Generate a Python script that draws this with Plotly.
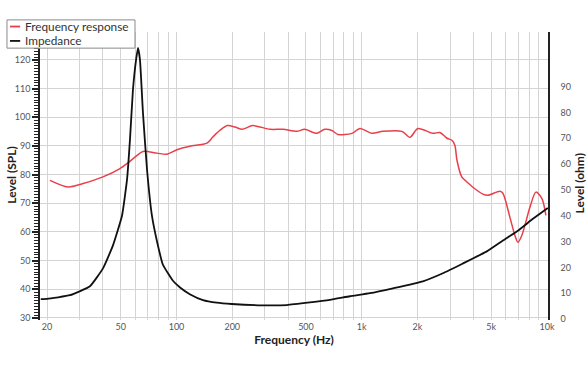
import plotly.graph_objects as go

# Frequency response (SPL, dB) — left axis
fr_freq = [20.75, 26.0, 31.3, 40.1, 49.5, 54.7, 61.2, 66.0, 78.5, 88.9, 100.6, 118, 146, 157, 172,
           188, 207, 226, 258, 320, 376, 446, 492, 571, 632, 690, 744, 885, 978, 1135, 1301,
           1648, 1820, 2010, 2421, 2642, 2885, 3068, 3184, 3264, 3472, 3604, 3981, 4506, 4796,
           5572, 5780, 6308, 6712, 6963, 7312, 8088, 8712, 9380, 9860]
fr_spl = [78.0, 75.7, 76.9, 79.2, 82.1, 84.1, 86.7, 88.1, 87.5, 87.1, 88.7, 89.9, 91.0, 93.1, 95.5,
          97.1, 96.6, 95.8, 97.1, 95.8, 95.8, 95.1, 95.8, 94.4, 95.8, 95.4, 94.0, 94.4, 96.1, 94.4, 95.1,
          95.1, 93.0, 96.1, 94.4, 94.7, 92.7, 92.0, 90.2, 85.1, 79.1, 78.1, 75.6, 73.2, 72.8,
          74.2, 73.5, 65.1, 58.8, 56.4, 58.8, 68.6, 73.9, 71.7, 65.8]

# Impedance (ohm) — right axis
imp_freq = [18.5, 20, 26.6, 34.1, 40.1, 45.4, 50.8, 54.1, 56.1, 58.2, 60.4, 62.0, 63.5, 65.9, 69.3,
            73.7, 78.5, 84.5, 95.7, 104.5, 118, 139, 165, 199, 293, 394, 525, 673, 863, 1107, 1473,
            2138, 2742, 3516, 4733, 5780, 6965, 8394, 10100]
imp_ohm = [7.7, 7.8, 9.2, 12.7, 19.6, 28.5, 40.0, 54.2, 69.6, 88.8, 100.0, 105.0, 100.5, 80.0, 58.0,
           40.0, 30.0, 21.0, 14.8, 12.2, 9.6, 7.3, 6.3, 5.8, 5.3, 5.4, 6.4, 7.4, 8.8, 10.0, 11.9,
           14.6, 17.7, 21.5, 26.2, 30.4, 34.2, 38.8, 43.0]

# Tick labels
x_grid = [20, 30, 40, 50, 60, 70, 80, 90, 100, 200, 300, 400, 500, 600, 700, 800, 900,
          1000, 2000, 3000, 4000, 5000, 6000, 7000, 8000, 9000, 10000]
x_labels = {20: "20", 50: "50", 100: "100", 200: "200", 500: "500", 1000: "1k",
            2000: "2k", 5000: "5k", 10000: "10k"}
spl_ticks = [30, 40, 50, 60, 70, 80, 90, 100, 110, 120]
ohm_ticks = [0, 10, 20, 30, 40, 50, 60, 70, 80, 90]

series_names = ["Frequency response", "Impedance"]
series_colors = ["#e8404a", "#111111"]
y_titles = ["Level (SPL)", "Level (ohm)"]

FONT = "Lato"

fig = go.Figure()
fig.add_trace(go.Scatter(x=fr_freq, y=fr_spl, mode="lines", name=series_names[0],
                         line=dict(color=series_colors[0], width=1.5, shape="spline", smoothing=0.8)))
fig.add_trace(go.Scatter(x=imp_freq, y=imp_ohm, mode="lines", name=series_names[1], yaxis="y2",
                         line=dict(color=series_colors[1], width=1.8, shape="spline", smoothing=0.4)))

# Compact legend box (drawn as layout decorations, like the reference)
shapes = [dict(type="rect", xref="paper", yref="paper", x0=-0.065, x1=0.187, y0=0.944, y1=1.042,
               fillcolor="white", line=dict(color="#8a8a8a", width=1), layer="above")]
annotations = []
for i, (nm, col) in enumerate(zip(series_names, series_colors)):
    yy = 1.019 - i * 0.05
    shapes.append(dict(type="line", xref="paper", yref="paper", x0=-0.059, x1=-0.039, y0=yy, y1=yy,
                       line=dict(color=col, width=1.8), layer="above"))
    annotations.append(dict(xref="paper", yref="paper", x=-0.034, y=yy, xanchor="left", yanchor="middle",
                            text=nm, showarrow=False, font=dict(family=FONT, size=11.8, color="#333333")))

# Vertical axis titles placed close to the tick labels
annotations.append(dict(xref="paper", yref="paper", x=-0.056, y=0.503, textangle=-90,
                        xanchor="center", yanchor="middle", showarrow=False,
                        text="<b>" + y_titles[0] + "</b>", font=dict(family=FONT, size=12, color="#222222")))
annotations.append(dict(xref="paper", yref="paper", x=1.062, y=0.476, textangle=-90,
                        xanchor="center", yanchor="middle", showarrow=False,
                        text="<b>" + y_titles[1] + "</b>", font=dict(family=FONT, size=12, color="#222222")))

fig.update_layout(
    width=588, height=372,
    margin=dict(l=40, r=40, t=32, b=52, autoexpand=False),
    paper_bgcolor="white", plot_bgcolor="white",
    font=dict(family=FONT, color="#555555", size=9),
    showlegend=False,
    shapes=shapes, annotations=annotations,
    xaxis=dict(type="log", range=[1.2632, 4.0054],
               tickmode="array", tickvals=x_grid,
               ticktext=[x_labels.get(v, "") for v in x_grid],
               showgrid=True, gridcolor="#d4d4d4", gridwidth=1,
               showline=False, zeroline=False, ticks="",
               tickfont=dict(size=9, color="#555555"),
               title=dict(text="<b>Frequency (Hz)</b>", font=dict(size=12, color="#222222"), standoff=4),
               automargin=False),
    yaxis=dict(range=[29.3, 129.75], tickmode="array", tickvals=spl_ticks,
               showgrid=True, gridcolor="#d4d4d4", gridwidth=1,
               showline=True, linecolor="#222222", linewidth=1.5,
               ticks="outside", ticklen=6, tickcolor="#222222", tickwidth=1.5,
               minor=dict(dtick=1, tick0=0, ticks="outside", ticklen=4, tickcolor="#222222", tickwidth=1, showgrid=False),
               zeroline=False,
               tickfont=dict(size=9, color="#555555"),
               automargin=False),
    yaxis2=dict(overlaying="y", side="right", range=[-0.4, 111.2],
                tickmode="array", tickvals=ohm_ticks,
                showgrid=False, showline=True, linecolor="#222222", linewidth=1.5,
                ticks="outside", ticklen=9, tickcolor="rgba(0,0,0,0)",
                zeroline=False,
                tickfont=dict(size=9, color="#555555"),
                automargin=False),
)

fig.write_html("out.html", config={"displayModeBar": False},
               post_script="document.body.style.margin='0';")
